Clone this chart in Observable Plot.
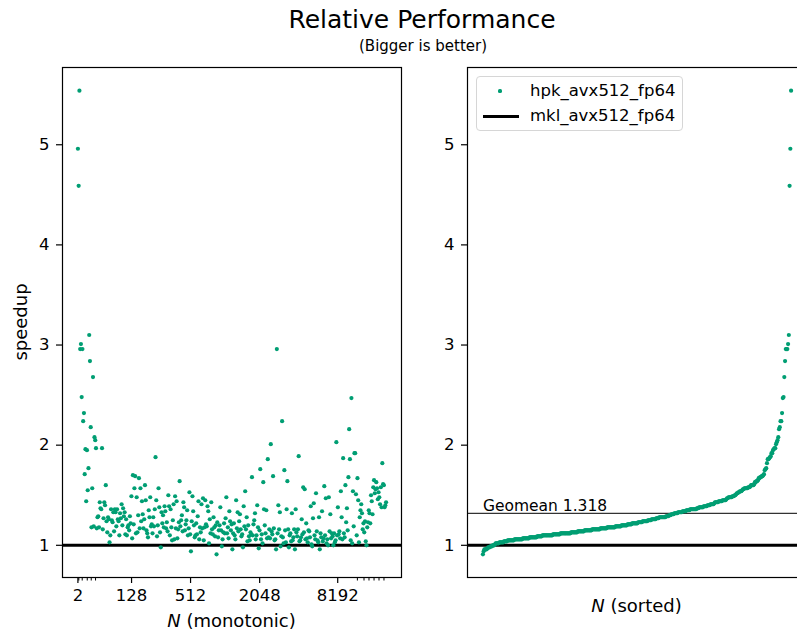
<!DOCTYPE html>
<html><head><meta charset="utf-8">
<script src="https://cdn.jsdelivr.net/npm/d3@7"></script>
<script src="https://cdn.jsdelivr.net/npm/@observablehq/plot@0.6"></script>
<style>
html,body{margin:0;padding:0;background:#fff;}
body{width:797px;height:635px;overflow:hidden;font-family:"DejaVu Sans",sans-serif;}
#fig{position:relative;width:797px;height:635px;overflow:hidden;}
.abs{position:absolute;white-space:nowrap;color:#000;line-height:1;}
</style></head><body><div id="fig"></div>
<script>
// speedup of hpk vs mkl, in order of N (monotonic)
const speedup = [
4.96,4.59,5.54,2.96,3.01,2.48,2.96,2.24,2.32,1.71,1.96,1.44,1.95,1.55,1.77,3.10,2.84,2.18,1.18,1.57,2.68,1.19,2.08,2.05,1.97,1.17,1.28,1.29,1.18,1.43,1.37,1.36,1.97,1.16,1.27,1.43,1.40,1.60,1.24,1.13,1.28,1.26,1.03,1.10,1.36,1.25,1.23,1.33,1.14,1.36,1.33,1.19,1.36,1.26,1.24,1.10,1.32,1.27,1.41,1.20,1.37,1.29,1.33,1.11,
1.26,1.10,1.18,1.20,1.15,1.29,1.22,1.49,1.07,1.70,1.21,1.57,1.69,1.12,1.48,1.13,1.30,1.67,1.17,1.57,1.24,1.44,1.31,1.17,1.26,1.60,1.45,1.15,1.12,1.08,1.35,1.28,1.48,1.19,1.21,1.12,1.28,1.19,1.36,1.88,1.45,1.09,1.20,1.57,1.38,1.13,0.98,1.33,1.22,1.30,1.18,1.39,1.34,1.17,1.23,1.14,1.50,1.39,1.10,1.36,1.18,1.05,1.25,1.41,1.06,1.49,1.17,1.44,1.07,1.16,1.23,1.64,
1.19,1.25,1.30,1.14,1.43,1.38,1.15,1.21,1.25,1.35,1.10,1.17,1.53,1.11,0.94,1.24,1.49,1.34,1.20,1.08,1.10,1.22,1.11,1.29,1.44,1.06,1.18,1.13,1.41,1.17,1.47,1.05,1.18,1.45,1.21,1.19,1.39,1.34,1.02,1.26,1.12,1.43,1.16,1.11,1.28,1.18,1.09,1.20,0.91,1.23,1.08,1.15,1.20,1.38,1.15,0.99,1.06,1.13,1.22,1.12,1.27,1.48,1.12,1.18,1.07,1.34,1.24,1.15,1.21,0.96,
1.12,1.22,1.10,1.06,1.45,1.17,1.33,1.14,1.24,1.31,1.16,1.09,1.11,0.98,1.39,1.19,1.54,1.16,1.28,1.04,1.20,1.09,1.05,1.13,1.11,1.68,1.10,1.21,1.25,1.32,1.06,1.10,1.40,1.18,0.97,1.15,1.76,1.06,1.11,1.02,1.63,1.36,1.20,1.12,1.35,1.07,1.86,1.08,1.16,1.07,2.01,1.14,1.11,1.69,1.17,1.05,1.06,0.96,2.96,1.12,1.40,1.16,1.33,0.99,1.09,2.24,1.08,1.02,1.75,1.15,1.03,1.36,1.64,
1.16,0.98,1.10,1.12,1.04,1.32,1.05,1.08,1.16,0.96,1.36,1.13,1.09,1.16,1.89,1.04,1.05,1.08,1.26,1.11,1.58,1.13,1.56,1.06,1.22,1.07,1.03,1.15,1.14,1.08,1.39,1.01,0.99,1.27,1.42,1.10,1.06,1.52,1.14,1.05,1.03,1.28,0.96,1.12,1.08,1.34,1.04,1.07,1.59,1.10,1.47,1.02,1.06,1.00,1.48,1.14,1.31,1.07,1.12,1.09,1.00,1.12,1.03,1.05,2.03,1.10,1.38,1.11,1.14,1.07,1.54,1.28,
1.06,1.87,1.12,1.08,1.60,1.23,1.37,1.15,1.68,2.16,1.86,1.05,2.47,1.02,1.54,1.19,1.92,1.92,1.51,1.10,1.67,1.45,1.03,1.28,1.35,1.41,1.32,1.16,1.22,1.13,1.24,1.04,1.00,1.18,1.23,1.35,1.32,1.22,1.50,1.44,1.31,1.58,1.65,1.52,1.56,1.63,1.57,1.46,1.53,1.48,1.41,1.58,1.38,1.82,1.61,1.60,1.38,1.40,1.43
];
// x-axis ticks (position in the sequence of N values) and their labels
const xTickIndex = [0, 71.2, 149.5, 241.2, 344.8];
const xTickLabels = ["2", "128", "512", "2048", "8192"];
const xMinorIndex = [1.2, 5.7, 12.4, 17.7, 23.4, 370.9, 379.7, 386.3, 393.0, 399.6, 406.2];
const yTicks = [1, 2, 3, 4, 5];
const baseline = 1;      // mkl_avx512_fp64 reference
const geomean = 1.318;
const seriesNames = ["hpk_avx512_fp64", "mkl_avx512_fp64"];
const titleText = "Relative Performance";
const subtitleText = "(Bigger is better)";
const yLabel = "speedup";
const xLabelLeft = " (monotonic)";
const xLabelRight = " (sorted)";

const green = "#009E73";
const n = speedup.length;
const pts = speedup.map((v, i) => ({i, v}));
const sorted = speedup.slice().sort((a, b) => a - b).map((v, i) => ({i, v}));
const lo = d3.min(speedup), hi = d3.max(speedup), pad = (hi - lo) * 0.05;
const yDomain = [lo - pad, hi + pad];
const xDomain = [-(n - 1) * 0.05, (n - 1) * 1.05];
const fig = document.getElementById("fig");
const svgStyle = {background: "transparent", fontFamily: "DejaVu Sans", fontSize: "16.5px", color: "#000", overflow: "visible"};
const yAxisOpts = {anchor: "left", tickSize: 6, tickPadding: 7, strokeWidth: 1.2, fontSize: 16.5, label: null, tickFormat: d => String(d)};

const left = Plot.plot({
  width: 420, height: 635,
  marginLeft: 62, marginRight: 19, marginTop: 67, marginBottom: 58,
  style: svgStyle,
  x: {domain: xDomain, axis: null},
  y: {domain: yDomain, axis: null},
  marks: [
    Plot.ruleY([baseline], {stroke: "#000", strokeWidth: 3}),
    Plot.dot(pts, {x: "i", y: "v", r: 2.1, fill: green, stroke: "none"}),
    Plot.frame({stroke: "#000", strokeWidth: 1.2}),
    Plot.axisY(yTicks, yAxisOpts),
    Plot.axisX(xTickIndex, {anchor: "bottom", tickSize: 6, tickPadding: 6, strokeWidth: 1.2, fontSize: 16.5, label: null,
      tickFormat: d => xTickLabels[xTickIndex.indexOf(d)]}),
    Plot.axisX(xMinorIndex, {anchor: "bottom", tickSize: 3.5, strokeWidth: 1, label: null, tickFormat: () => ""})
  ]
});
left.style.position = "absolute"; left.style.left = "0px"; left.style.top = "0px";
fig.appendChild(left);

const right = Plot.plot({
  width: 396, height: 635,
  marginLeft: 47, marginRight: 10, marginTop: 67, marginBottom: 58,
  style: svgStyle,
  x: {domain: xDomain, axis: null},
  y: {domain: yDomain, axis: null},
  marks: [
    Plot.ruleY([geomean], {stroke: "#333", strokeWidth: 1.2}),
    Plot.ruleY([baseline], {stroke: "#000", strokeWidth: 3}),
    Plot.dot(sorted, {x: "i", y: "v", r: 2.1, fill: green, stroke: "none"}),
    Plot.text([geomean], {x: 0, y: d => d, text: d => `Geomean ${d.toFixed(3)}`, textAnchor: "start", lineAnchor: "bottom", dy: -2, fontSize: 15.5, fill: "#000"}),
    Plot.frame({stroke: "#000", strokeWidth: 1.2}),
    Plot.axisY(yTicks, yAxisOpts)
  ]
});
right.style.position = "absolute"; right.style.left = "420px"; right.style.top = "0px";
fig.appendChild(right);

function label(html, x, y, size, rotate) {
  const d = document.createElement("div");
  d.className = "abs";
  d.style.left = x + "px"; d.style.top = y + "px";
  d.style.fontSize = size + "px";
  d.style.transform = `translate(-50%,-50%)` + (rotate ? ` rotate(${rotate}deg)` : "");
  d.innerHTML = html;
  fig.appendChild(d);
  return d;
}
label(titleText, 422, 19, 25);
label(subtitleText, 423, 46, 15);
label(yLabel, 21, 322, 18, -90);
label(`<i>N</i>${xLabelLeft}`, 231.5, 621, 18);
label(`<i>N</i>${xLabelRight}`, 636.5, 606, 18);

// legend
const lg = document.createElement("div");
lg.className = "abs";
Object.assign(lg.style, {left: "476px", top: "76px", width: "207px", height: "55px", boxSizing: "border-box",
  border: "1px solid #d6d6d6", borderRadius: "4px", background: "rgba(255,255,255,0.85)"});
fig.appendChild(lg);
const rows = [{y: 14, kind: "dot"}, {y: 39, kind: "line"}];
rows.forEach((r, k) => {
  const sw = document.createElement("div");
  sw.style.position = "absolute";
  if (r.kind === "dot") {
    Object.assign(sw.style, {left: (23 - 1.6) + "px", top: (r.y - 1.6) + "px", width: "3.2px", height: "3.2px", borderRadius: "50%", background: green});
  } else {
    Object.assign(sw.style, {left: "5.5px", top: (r.y - 1.5) + "px", width: "36px", height: "3px", background: "#000"});
  }
  lg.appendChild(sw);
  const t = document.createElement("div");
  Object.assign(t.style, {position: "absolute", left: "53px", top: r.y + "px", transform: "translateY(-50%)", fontSize: "16.5px", lineHeight: "1"});
  t.textContent = seriesNames[k];
  lg.appendChild(t);
});
</script></body></html>
